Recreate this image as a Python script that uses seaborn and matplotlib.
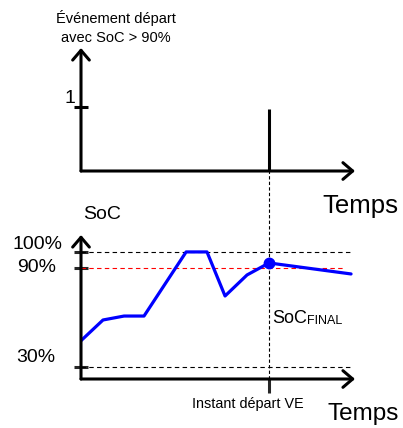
import numpy as np
import pandas as pd
import matplotlib
matplotlib.use("Agg")
import matplotlib.pyplot as plt
import seaborn as sns

# timeline (arbitrary time units), departure event and SoC profile
time_soc = [0, 1.17, 2.29, 3.35, 5.59, 6.70, 7.66, 8.83, 10.0, 14.36]
soc_pct = [46, 58.6, 61, 61, 100, 100, 73.2, 86, 93.3, 86.6]
t_depart = 10.0
event_value = 1

soc_ticks = [100, 90, 30]
soc_tick_labels = ["100%", "90%", "30%"]
soc_threshold = 90

df = pd.DataFrame({"t": time_soc, "soc": soc_pct})

sns.set_style("white")
plt.rcParams['font.family'] = ['Liberation Sans', 'DejaVu Sans']

W, H = 403, 428
fig = plt.figure(figsize=(W / 100, H / 100), dpi=100)

t_max = 14.57
# axes placed in pixel terms of the reference
ax_top = fig.add_axes([81 / W, 1 - 171 / H, 274 / W, 123 / H])
ax_bot = fig.add_axes([81 / W, 1 - 379 / H, 274 / W, 144 / H])
ax_txt = fig.add_axes([0, 0, 1, 1], zorder=-1)
ax_txt.set_xlim(0, W)
ax_txt.set_ylim(H, 0)
ax_txt.axis("off")

axis_lw = 2.2
for ax in (ax_top, ax_bot):
    ax.set_xlim(0, t_max)
    ax.patch.set_alpha(0)
    for s in ax.spines.values():
        s.set_visible(False)
    arrow = dict(arrowstyle="->,head_length=0.35,head_width=0.3", lw=axis_lw,
                 color="black", shrinkA=0, shrinkB=0, mutation_scale=20)
    ax.annotate("", xy=(1, 0), xytext=(0, 0), xycoords="axes fraction",
                arrowprops=arrow, annotation_clip=False)
    ax.annotate("", xy=(0, 1), xytext=(0, 0), xycoords="axes fraction",
                arrowprops=arrow, annotation_clip=False)

# top panel: departure event
ax_top.set_ylim(0, 1.92)
ax_top.vlines(t_depart, 0, event_value * 0.97, color="black", lw=axis_lw)
ax_top.set_yticks([event_value])
ax_top.set_xticks([])
ax_top.tick_params(axis="y", direction="inout", length=10, width=axis_lw,
                   color="black", labelleft=False, left=True)

# bottom panel: SoC
ax_bot.set_ylim(22.7, 110.3)
ax_bot.hlines([100, 30], 0, 14.47, color="black", lw=0.8, linestyles=(0, (4, 3)))
ax_bot.hlines(soc_threshold, 0, 13.94, color="red", lw=0.8, linestyles=(0, (4, 3)))
ymax = (1 - 171 / H - (1 - 379 / H)) / (144 / H)
ax_bot.axvline(t_depart, ymin=0, ymax=ymax, color="black", lw=0.8,
               linestyle=(0, (3, 2)), clip_on=False)

sns.lineplot(data=df, x="t", y="soc", ax=ax_bot, color="#0000FF", lw=2.3,
             legend=False)
final = df[df["t"] == t_depart]
ax_bot.plot(final["t"], final["soc"], "o", color="#0000FF", ms=7.5)

ax_bot.set_yticks(soc_ticks)
ax_bot.set_xticks([t_depart])
ax_bot.tick_params(axis="y", direction="inout", length=10, width=axis_lw,
                   labelleft=False, left=True)
ax_bot.tick_params(axis="x", direction="out", length=10, width=axis_lw,
                   labelbottom=False, bottom=True)
for tk, v in zip(ax_bot.yaxis.get_major_ticks(), soc_ticks):
    tk.tick1line.set_color("red" if v == soc_threshold else "black")
ax_bot.set_xlabel("")
ax_bot.set_ylabel("")

# texts (pixel coordinates of the reference)
kw = dict(va="baseline", color="black")
ax_txt.text(116, 23, "Événement départ", ha="center", fontsize=10.5, **kw)
ax_txt.text(116, 42, "avec SoC > 90%", ha="center", fontsize=10.5, **kw)
ax_txt.text(75, 103, str(event_value), ha="right", fontsize=14, **kw)
ax_txt.text(322, 213, "Temps", ha="left", fontsize=18.5, **kw)
ax_txt.text(83, 219, "SoC", ha="left", fontsize=14, **kw)
for lab, (x, y) in zip(soc_tick_labels, [(62, 249), (56, 272), (55, 362)]):
    ax_txt.text(x, y, lab, ha="right", fontsize=14, **kw)
ax_txt.text(272, 323, "SoC", ha="left", fontsize=13, **kw)
ax_txt.text(307, 324, "FINAL", ha="left", fontsize=9, **kw)
ax_txt.text(248, 408, "Instant départ VE", ha="center", fontsize=10.4, **kw)
ax_txt.text(328, 420, "Temps", ha="left", fontsize=17.5, **kw)

fig.savefig("out.png", dpi=100)
